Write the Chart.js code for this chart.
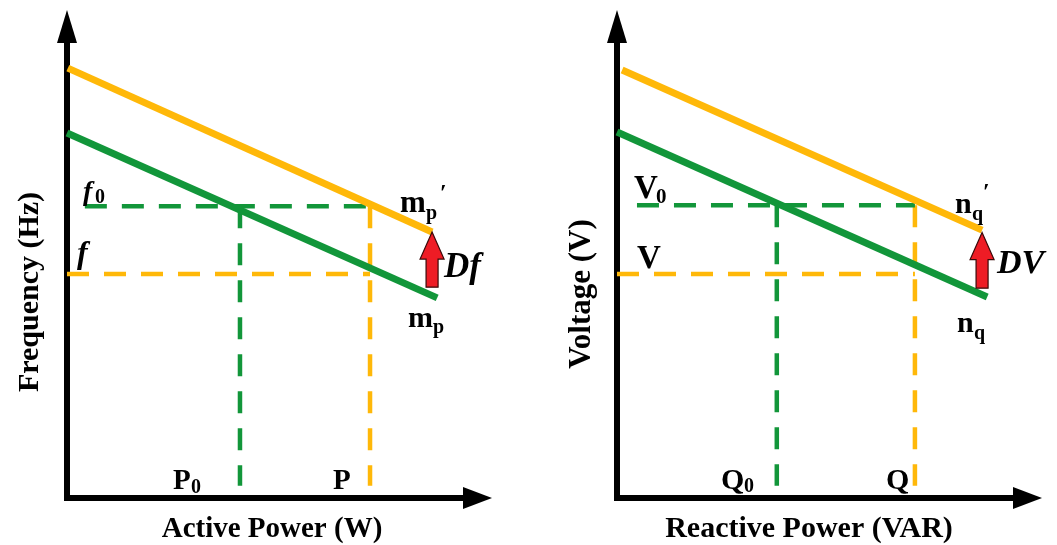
<!DOCTYPE html>
<html>
<head>
<meta charset="utf-8">
<script src="https://cdn.jsdelivr.net/npm/chart.js@4/dist/chart.umd.min.js"></script>
<style>
  html, body { margin: 0; padding: 0; background: #fff; }
  #wrap { position: relative; width: 1057px; height: 545px; }
  #left { position: absolute; left: 0; top: 0; }
  #right { position: absolute; left: 528px; top: 0; }
</style>
</head>
<body>
<div id="wrap">
  <canvas id="left" width="528" height="545"></canvas>
  <canvas id="right" width="529" height="545"></canvas>
</div>
<script>
// both panels use a 0..100 x 0..100 data space
// P-f droop (left)
const pfShifted = [[0.2, 88.1], [85.9, 54.5]];   // m_p' (orange)
const pfNominal = [[0, 74.8], [87.1, 41.0]];     // m_p  (green)
const pfLevels = [59.8, 45.9];                   // f0, f
const pfPowers = [40.7, 71.3];                   // P0, P
const pfShift = [85.9, 43.2, 54.5];              // Df arrow: x, from, to

// Q-V droop (right)
const qvShifted = [[1.2, 87.7], [85.9, 54.9]];   // n_q' (orange)
const qvNominal = [[0, 75.0], [87.1, 41.2]];     // n_q  (green)
const qvLevels = [60.0, 45.9];                   // V0, V
const qvPowers = [37.6, 70.1];                   // Q0, Q
const qvShift = [85.9, 43.0, 54.4];              // DV arrow

const ORANGE = '#FFB809';
const GREEN = '#12963A';
const SERIF = "'Liberation Serif', 'Times New Roman', serif";

function pts(arr){ return arr.map(p => ({x: p[0], y: p[1]})); }

function droopDatasets(shifted, nominal, levels, powers, greenStart){
  const bottom = 2.5;
  const solid = (d, c) => ({data: pts(d), borderColor: c, borderWidth: 7, showLine: true, pointRadius: 0, clip: false, borderCapStyle: 'butt'});
  const dash = (d, c) => ({data: pts(d), borderColor: c, borderWidth: 4.5, borderDash: [22, 15], showLine: true, pointRadius: 0, clip: false, borderCapStyle: 'butt'});
  return [
    solid(nominal, GREEN),
    solid(shifted, ORANGE),
    dash([[greenStart, levels[0]], [powers[1], levels[0]]], GREEN),
    dash([[powers[0], levels[0]], [powers[0], bottom]], GREEN),
    dash([[0, levels[1]], [powers[1], levels[1]]], ORANGE),
    dash([[powers[1], levels[0]], [powers[1], bottom]], ORANGE)
  ];
}

// text pieces: [text, x, y, fontSize, style, align] in canvas px
function axesPlugin(cfg){
  return {
    id: 'axes',
    beforeDatasetsDraw(chart){
      const ctx = chart.ctx, a = chart.chartArea;
      ctx.save();
      ctx.fillStyle = '#000';
      ctx.strokeStyle = '#000';
      ctx.lineWidth = 6;
      ctx.beginPath();
      ctx.moveTo(a.left, a.bottom + 3);
      ctx.lineTo(a.left, a.top + 25);
      ctx.moveTo(a.left - 3, a.bottom);
      ctx.lineTo(a.right - 22, a.bottom);
      ctx.stroke();
      // arrow heads
      ctx.beginPath();
      ctx.moveTo(a.left, a.top);
      ctx.lineTo(a.left - 10, a.top + 33);
      ctx.lineTo(a.left + 10, a.top + 33);
      ctx.closePath();
      ctx.fill();
      ctx.beginPath();
      ctx.moveTo(a.right, a.bottom);
      ctx.lineTo(a.right - 29, a.bottom - 11);
      ctx.lineTo(a.right - 29, a.bottom + 11);
      ctx.closePath();
      ctx.fill();
      ctx.restore();
    },
    afterDatasetsDraw(chart){
      const ctx = chart.ctx;
      const xs = chart.scales.x, ys = chart.scales.y;
      // shift arrow
      const s = cfg.shift;
      const ax = xs.getPixelForValue(s[0]);
      const y0 = ys.getPixelForValue(s[1]);
      const y1 = ys.getPixelForValue(s[2]);
      ctx.save();
      ctx.fillStyle = '#EE1C25';
      ctx.strokeStyle = '#3a0808';
      ctx.lineWidth = 1.2;
      ctx.beginPath();
      ctx.moveTo(ax, y1);
      ctx.lineTo(ax + 12, y1 + 27);
      ctx.lineTo(ax + 6, y1 + 27);
      ctx.lineTo(ax + 6, y0);
      ctx.lineTo(ax - 6, y0);
      ctx.lineTo(ax - 6, y1 + 27);
      ctx.lineTo(ax - 12, y1 + 27);
      ctx.closePath();
      ctx.fill();
      ctx.stroke();
      // labels
      ctx.fillStyle = '#000';
      ctx.textBaseline = 'alphabetic';
      cfg.texts.forEach(t => {
        ctx.font = (t[4] || 'bold') + ' ' + t[3] + 'px ' + SERIF;
        ctx.textAlign = t[5] || 'left';
        ctx.fillText(t[0], t[1], t[2]);
      });
      // rotated y title
      const yt = cfg.yTitle;
      ctx.translate(yt[1], yt[2]);
      ctx.rotate(-Math.PI / 2);
      ctx.font = 'bold ' + yt[3] + 'px ' + SERIF;
      ctx.textAlign = 'center';
      ctx.textBaseline = 'middle';
      ctx.fillText(yt[0], 0, 0);
      ctx.restore();
    }
  };
}

function makePanel(canvas, datasets, padding, cfg){
  return new Chart(canvas.getContext('2d'), {
    type: 'scatter',
    data: {datasets: datasets},
    options: {
      responsive: false,
      animation: false,
      devicePixelRatio: 1,
      layout: {padding: padding},
      scales: {
        x: {type: 'linear', min: 0, max: 100, display: false},
        y: {type: 'linear', min: 0, max: 100, display: false}
      },
      plugins: {legend: {display: false}, tooltip: {enabled: false}}
    },
    plugins: [axesPlugin(cfg)]
  });
}

makePanel(document.getElementById('left'),
  droopDatasets(pfShifted, pfNominal, pfLevels, pfPowers, 4.2),
  {left: 67, right: 36, top: 10, bottom: 47},
  {
    shift: pfShift,
    texts: [
      ['f', 83, 200, 28, 'italic bold'],
      ['0', 95, 203, 20],
      ['f', 77, 263, 32, 'italic bold'],
      ['m', 400, 212, 31],
      ['p', 426, 219, 20],
      ['\u2032', 440, 200, 24],
      ['m', 408, 327, 30],
      ['p', 433, 333, 20],
      ['P', 173, 489, 29],
      ['0', 191, 493, 20],
      ['P', 333, 489, 29],
      ['Df', 444, 277, 35, 'italic bold'],
      ['Active Power (W)', 272, 537, 29, 'bold', 'center']
    ],
    yTitle: ['Frequency (Hz)', 30, 292, 30]
  });

makePanel(document.getElementById('right'),
  droopDatasets(qvShifted, qvNominal, qvLevels, qvPowers, 4.7),
  {left: 89, right: 15, top: 10, bottom: 47},
  {
    shift: qvShift,
    texts: [
      ['V', 106, 198, 33],
      ['0', 128, 203, 21],
      ['V', 109, 268, 33],
      ['n', 427, 213, 30],
      ['q', 444, 220, 20],
      ['\u2032', 455, 199, 24],
      ['n', 429, 332, 30],
      ['q', 446, 339, 20],
      ['Q', 193, 489, 30],
      ['0', 216, 492, 20],
      ['Q', 358, 489, 30],
      ['DV', 469, 273, 34, 'italic bold'],
      ['Reactive Power (VAR)', 281, 537, 30, 'bold', 'center']
    ],
    yTitle: ['Voltage (V)', 54, 294, 31]
  });
</script>
</body>
</html>
